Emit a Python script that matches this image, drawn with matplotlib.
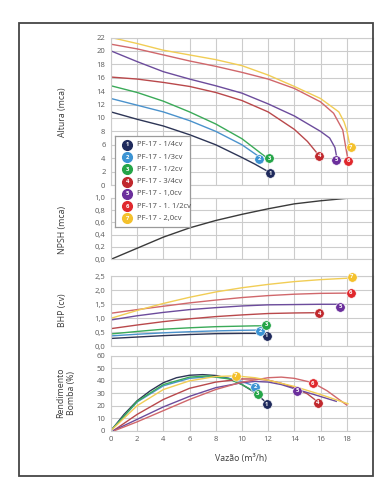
import matplotlib
matplotlib.use("Agg")
import matplotlib.pyplot as plt
from matplotlib.patches import Rectangle
from matplotlib.ticker import FuncFormatter

plt.rcParams['font.family'] = ['Open Sans', 'DejaVu Sans']

# pump models
labels = ["PF-17 - 1/4cv", "PF-17 - 1/3cv", "PF-17 - 1/2cv", "PF-17 - 3/4cv",
          "PF-17 - 1,0cv", "PF-17 - 1. 1/2cv", "PF-17 - 2,0cv"]
mark_colors = ["#1f2a5c", "#3b93d3", "#25a548", "#c0282d", "#6b2f9c", "#e0282d", "#f4c12c"]
line_colors = ["#2d3556", "#4a92cc", "#3aaa58", "#b9484b", "#6c4c9c", "#d0676b", "#f1cd55"]

# head curves (Altura, mca)
head_q = [
    [0, 2, 4, 6, 8, 10, 11, 12],
    [0, 2, 4, 6, 8, 10, 11.4],
    [0, 2, 4, 6, 8, 10, 11.8],
    [0, 2, 4, 6, 8, 10, 12, 14, 15, 15.8],
    [0, 1, 2, 4, 6, 8, 10, 12, 14, 16, 16.7, 17.1, 17.25],
    [0, 2, 4, 6, 8, 10, 12, 14, 16, 17, 17.7, 18.0, 18.1],
    [0, 2, 4, 6, 8, 10, 12, 14, 16, 17.4, 17.8, 18.0, 18.2],
]
head_h = [
    [10.9, 9.8, 8.8, 7.5, 6.0, 4.1, 3.1, 2.0],
    [12.9, 11.9, 10.9, 9.6, 8.0, 6.0, 4.1],
    [14.8, 13.8, 12.5, 10.9, 9.1, 6.9, 4.2],
    [16.1, 15.8, 15.3, 14.7, 13.8, 12.6, 10.9, 8.3, 6.5, 4.6],
    [20.0, 19.2, 18.4, 16.9, 15.8, 14.8, 13.7, 12.1, 10.3, 8.0, 7.0, 5.6, 4.0],
    [21.0, 20.3, 19.4, 18.5, 17.7, 16.8, 15.8, 14.4, 12.4, 10.7, 8.2, 4.8, 3.8],
    [22.0, 21.1, 20.1, 19.4, 18.7, 17.8, 16.4, 14.7, 12.9, 10.9, 9.4, 8.2, 6.3],
]
head_mark_q = [12.15, 11.3, 12.07, 15.9, 17.2, 18.1, 18.3]
head_mark_h = [1.75, 3.9, 4.0, 4.4, 3.8, 3.6, 5.6]

# NPSH curve
npsh_q = [0, 2, 4, 6, 8, 10, 12, 14, 16, 18]
npsh_v = [0.0, 0.18, 0.36, 0.51, 0.63, 0.73, 0.82, 0.90, 0.95, 0.99]

# BHP (cv)
bhp_q = [
    [0, 2, 4, 6, 8, 10, 12],
    [0, 2, 4, 6, 8, 10, 11.4],
    [0, 2, 4, 6, 8, 10, 11, 11.9],
    [0, 2, 4, 6, 8, 10, 12, 14, 15.8],
    [0, 2, 4, 6, 8, 10, 12, 16, 17.5],
    [0, 2, 4, 6, 8, 10, 12, 14, 16, 18.3],
    [0, 2, 4, 6, 8, 10, 12, 14, 16, 18, 18.4],
]
bhp_p = [
    [0.27, 0.32, 0.37, 0.41, 0.44, 0.45, 0.45],
    [0.36, 0.42, 0.47, 0.51, 0.54, 0.56, 0.57],
    [0.43, 0.52, 0.60, 0.65, 0.69, 0.71, 0.72, 0.72],
    [0.62, 0.75, 0.87, 0.97, 1.05, 1.11, 1.16, 1.18, 1.19],
    [0.93, 1.08, 1.20, 1.30, 1.37, 1.43, 1.47, 1.49, 1.49],
    [1.17, 1.30, 1.42, 1.54, 1.64, 1.73, 1.80, 1.85, 1.88, 1.89],
    [0.99, 1.27, 1.52, 1.74, 1.93, 2.08, 2.20, 2.30, 2.37, 2.42, 2.45],
]
bhp_mark_q = [11.9, 11.4, 11.85, 15.9, 17.5, 18.3, 18.4]
bhp_mark_p = [0.36, 0.54, 0.75, 1.17, 1.40, 1.90, 2.47]

# efficiency (Rendimento Bomba, %)
eff_q = [
    [0, 1, 2, 3, 4, 5, 6, 7, 8, 9, 10, 11, 11.8],
    [0, 2, 4, 6, 7.5, 9, 10, 11],
    [0, 2, 4, 6, 7.5, 9, 10, 11.2],
    [0.2, 2, 4, 6, 8, 10, 11, 12, 13, 14, 15, 15.8],
    [0.2, 2, 4, 6, 8, 10, 11, 12, 13, 14.2, 15.5, 17.2],
    [0.3, 2, 4, 6, 8, 10, 12, 13, 14, 15.4, 16.5, 18],
    [0, 2, 4, 6, 8, 9.5, 11, 12, 14, 16, 18.1],
]
eff_e = [
    [0, 13, 24, 32, 38.5, 42.5, 44.5, 45, 44.3, 42, 37, 30.5, 23],
    [0, 23, 36, 42, 43.3, 42, 39.5, 35.5],
    [0, 23.5, 37, 43, 44, 41.5, 37, 30],
    [0, 13, 25, 34, 39, 41.5, 41.5, 40.5, 38, 34.5, 29.5, 23],
    [0, 9, 19, 27.5, 34.5, 38.5, 39.5, 39, 37, 33, 29, 23.5],
    [0, 7, 16, 25, 33, 39, 42.5, 43, 42, 38.5, 32, 20.5],
    [0, 20, 33, 40, 43.5, 44, 42.5, 40.5, 35.5, 29, 21.5],
]
eff_mark_q = [11.9, 11.0, 11.2, 15.8, 14.2, 15.4, 9.55]
eff_mark_e = [21, 35.3, 29.5, 22.4, 32.1, 38.2, 44]

W, H = 392, 500
fig = plt.figure(figsize=(W / 100, H / 100), dpi=100)

def box(x0, y0, x1, y1):
    return [x0 / W, 1 - y1 / H, (x1 - x0) / W, (y1 - y0) / H]

ax_h = fig.add_axes(box(111, 37.5, 372.9, 185))
ax_n = fig.add_axes(box(111, 197.7, 372.9, 259.3))
ax_b = fig.add_axes(box(111, 276, 372.9, 346))
ax_e = fig.add_axes(box(111, 356, 372.9, 430.5))

tick_col = "#5a5a5a"
grid_col = "#cccccc"

def style(ax, ylim, yticks, fmt, xlabels=False):
    ax.set_xlim(0, 20)
    ax.set_ylim(*ylim)
    ax.set_xticks(range(0, 21, 2))
    ax.set_yticks(yticks)
    ax.yaxis.set_major_formatter(FuncFormatter(fmt))
    if xlabels:
        ax.xaxis.set_major_formatter(FuncFormatter(lambda v, p: "" if v > 19 else f"{v:.0f}"))
    else:
        ax.set_xticklabels([])
    ax.tick_params(length=0, labelsize=5.5, colors=tick_col, pad=4)
    ax.grid(True, color=grid_col, lw=0.8)
    for s in ax.spines.values():
        s.set_color(grid_col)
        s.set_linewidth(0.8)
    ax.set_axisbelow(True)

def mark(ax, x, y, i):
    ax.plot(x, y, "o", ms=6.8, color=mark_colors[i], mec="white", mew=0.4, zorder=5, clip_on=False)
    ax.text(x, y, str(i + 1), color="white", fontsize=4.2, fontweight="bold",
            ha="center", va="center", zorder=6, clip_on=False)

for i in range(7):
    ax_h.plot(head_q[i], head_h[i], color=line_colors[i], lw=1.0)
    mark(ax_h, head_mark_q[i], head_mark_h[i], i)
    ax_b.plot(bhp_q[i], bhp_p[i], color=line_colors[i], lw=1.0)
    mark(ax_b, bhp_mark_q[i], bhp_mark_p[i], i)
    ax_e.plot(eff_q[i], eff_e[i], color=line_colors[i], lw=1.0)
    mark(ax_e, eff_mark_q[i], eff_mark_e[i], i)

ax_n.plot(npsh_q, npsh_v, color="#3a3a3a", lw=1.0)

style(ax_h, (0, 22), range(0, 23, 2), lambda v, p: f"{v:.0f}")
style(ax_n, (0, 1.0), [0, 0.2, 0.4, 0.6, 0.8, 1.0], lambda v, p: f"{v:.1f}".replace(".", ","))
style(ax_b, (0, 2.5), [0, 0.5, 1.0, 1.5, 2.0, 2.5], lambda v, p: f"{v:.1f}".replace(".", ","))
style(ax_e, (0, 60), range(0, 61, 10), lambda v, p: f"{v:.0f}", xlabels=True)

# axis titles
lab_col = "#3c3c3c"
fig.text(63 / W, 1 - 112 / H, "Altura (mca)", rotation=90, ha="center", va="center", fontsize=6.3, color=lab_col)
fig.text(63 / W, 1 - 230 / H, "NPSH (mca)", rotation=90, ha="center", va="center", fontsize=6.3, color=lab_col)
fig.text(63 / W, 1 - 310 / H, "BHP (cv)", rotation=90, ha="center", va="center", fontsize=6.3, color=lab_col)
fig.text(66 / W, 1 - 393 / H, "Rendimento\nBomba (%)", rotation=90, ha="center", va="center",
         fontsize=6.3, color=lab_col, linespacing=1.2)
fig.text(241 / W, 1 - 458 / H, "Vazão (m³/h)", ha="center", va="center", fontsize=6.3, color=lab_col)

# legend
ax_l = fig.add_axes(box(115, 136, 190, 227), zorder=10)
ax_l.set_xlim(0, 75)
ax_l.set_ylim(91, 0)
ax_l.set_xticks([])
ax_l.set_yticks([])
for s in ax_l.spines.values():
    s.set_color("#9a9a9a")
    s.set_linewidth(0.9)
for i, lab in enumerate(labels):
    yy = 9 + i * 12.2
    ax_l.plot(12.3, yy, "o", ms=7, color=mark_colors[i])
    ax_l.text(12.3, yy, str(i + 1), color="white", fontsize=4.2, fontweight="bold", ha="center", va="center")
    ax_l.text(21.7, yy, lab, fontsize=5.5, color="#4a4a4a", ha="left", va="center")

# outer frame
fig.patches.append(Rectangle((19 / W, 1 - 476 / H), 354 / W, 453 / H, transform=fig.transFigure,
                             fill=False, ec="#454545", lw=1.3))

fig.savefig("out.png", dpi=100)
